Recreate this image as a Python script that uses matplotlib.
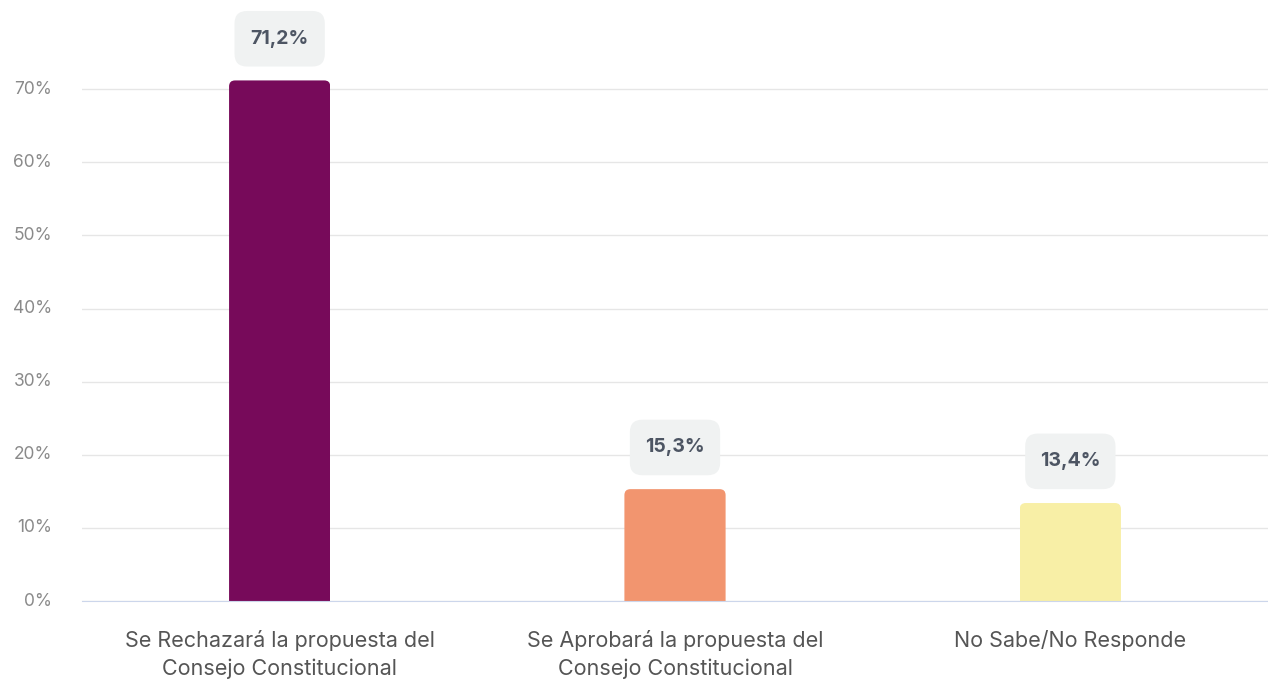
import matplotlib.pyplot as plt
import matplotlib.transforms as mtransforms
from matplotlib.patches import FancyBboxPatch, Rectangle

categories = [
    "Se Rechazará la propuesta del\nConsejo Constitucional",
    "Se Aprobará la propuesta del\nConsejo Constitucional",
    "No Sabe/No Responde",
]
values = [71.2, 15.3, 13.4]
value_labels = ["71,2%", "15,3%", "13,4%"]
colors = ["#770A5A", "#F2956F", "#F8EFA6"]
yticks = [0, 10, 20, 30, 40, 50, 60, 70]

plt.rcParams["font.family"] = ["Inter", "DejaVu Sans"]

fig = plt.figure(figsize=(12.68, 6.82), dpi=100)
ax = fig.add_axes([82 / 1268, 1 - 601 / 682, 1 - 82 / 1268, 601 / 682])

x = list(range(len(categories)))
bar_w = 0.256
bars = ax.bar(x, values, width=bar_w, color=colors)
ax.set_xlim(-0.5, 2.5)
ax.set_ylim(0, 82.2)

# rounded tops: swap each bar for a rounded patch clipped at the baseline
rx = 6 / 395
aspect = 395 / 7.314
for b in bars:
    b.set_visible(False)
    x0, h = b.get_x(), b.get_height()
    ry = rx * aspect
    p = FancyBboxPatch((x0, -ry), bar_w, h + ry,
                       boxstyle=f"round,pad=0,rounding_size={rx}",
                       mutation_aspect=aspect, facecolor=b.get_facecolor(),
                       edgecolor="none", zorder=3)
    ax.add_patch(p)
    p.set_clip_path(Rectangle((x0, 0), bar_w, h + 5, transform=ax.transData))

# value pills above bars, sized in points
box_w, box_h = 65, 40
for xi, v, lab in zip(x, values, value_labels):
    off = mtransforms.ScaledTranslation(xi, v, ax.transData)
    tr = mtransforms.Affine2D().scale(1 / 72) + fig.dpi_scale_trans
    tr = tr + mtransforms.ScaledTranslation(0, 0, fig.dpi_scale_trans) + off
    pill = FancyBboxPatch((-box_w / 2, 10), box_w, box_h,
                          boxstyle="round,pad=0,rounding_size=9",
                          facecolor="#F0F2F2", edgecolor="none",
                          transform=tr, clip_on=False, zorder=4)
    ax.add_patch(pill)
    ax.annotate(lab, (xi, v), xytext=(0, 10 + box_h / 2), textcoords="offset points",
                ha="center", va="center", fontsize=14, fontweight="bold",
                color="#4D5563", zorder=5, annotation_clip=False)

ax.set_yticks(yticks)
ax.set_yticklabels([f"{t}%" for t in yticks])
ax.set_xticks(x)
ax.set_xticklabels(categories, linespacing=1.45)
ax.tick_params(axis="y", length=0, pad=21.5, labelsize=12.5, labelcolor="#8A8A8A")
ax.tick_params(axis="x", length=0, pad=21, labelsize=15.5, labelcolor="#555555")
for lab in ax.get_yticklabels():
    lab.set_verticalalignment("center")

ax.grid(axis="y", color="#E6E6E6", linewidth=1)
ax.set_axisbelow(True)
for side in ["top", "right", "left"]:
    ax.spines[side].set_visible(False)
ax.spines["bottom"].set_color("#CCD6EB")
ax.spines["bottom"].set_zorder(4)

fig.savefig("out.png", dpi=100)
